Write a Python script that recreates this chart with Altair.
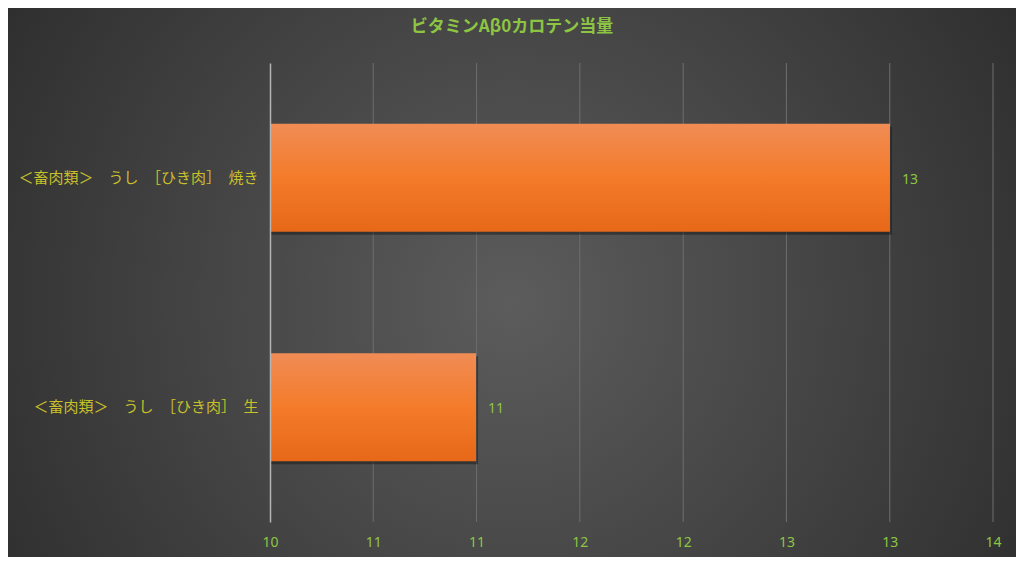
import altair as alt
import pandas as pd

title_text = "ビタミンAβ0カロテン当量"
categories = ["＜畜肉類＞　うし　［ひき肉］　焼き", "＜畜肉類＞　うし　［ひき肉］　生"]
values = [13.43, 11.14]
tick_values = [10, 10.571, 11.143, 11.714, 12.286, 12.857, 13.429, 14]

df = pd.DataFrame({"food": categories, "value": values})
grid_df = pd.DataFrame({"tick": tick_values[1:]})
title_df = pd.DataFrame({"t": [title_text]})

W, H = 723, 459
PL, PT, PR, PB = 262, 55, 23, 35

x_scale = alt.Scale(domain=[10, 14], nice=False)
y_scale = alt.Scale(paddingInner=0.53, paddingOuter=0.265)

background = alt.Chart(pd.DataFrame({"k": [0]})).mark_rect(
    clip=False,
    color=alt.RadialGradient(
        gradient="radial",
        x1=0.5, y1=0.52, r1=0.0,
        x2=0.5, y2=0.52, r2=0.75,
        stops=[
            alt.GradientStop(offset=0, color="#5c5c5c"),
            alt.GradientStop(offset=1, color="#222222"),
        ],
    ),
).encode(
    x=alt.value(-PL), x2=alt.value(W + PR),
    y=alt.value(-PT), y2=alt.value(H + PB),
)

grid = alt.Chart(grid_df).mark_rule(color="#6e6e6e", strokeWidth=1).encode(
    x=alt.X("tick:Q", scale=x_scale, title=None),
    y=alt.value(0), y2=alt.value(H),
)

shadow = alt.Chart(df).mark_bar(
    color="#141414", opacity=0.45, xOffset=2, yOffset=3, clip=False,
).encode(
    y=alt.Y("food:N", sort=categories, title=None, scale=y_scale),
    x=alt.X("value:Q", scale=x_scale, title=None),
    x2=alt.datum(10),
)

y_enc = alt.Y(
    "food:N", sort=categories, title=None, scale=y_scale,
    axis=alt.Axis(
        labelColor="#c9c12a", labelFont="Noto Sans CJK JP", labelFontSize=15,
        labelPadding=12, labelLimit=0, ticks=False, domainColor="#b5b5b5",
        domainWidth=1.5, grid=False, zindex=1,
    ),
)
x_enc = alt.X(
    "value:Q", title=None, scale=x_scale,
    axis=alt.Axis(
        values=tick_values, format=".0f", labelColor="#8dc543",
        labelFont="Noto Sans", labelFontSize=14, labelPadding=13,
        labelFlush=False, ticks=False, domain=False, grid=False, zindex=1,
    ),
)

bars = alt.Chart(df).mark_bar(
    clip=False,
    color=alt.LinearGradient(
        gradient="linear", x1=0, y1=0, x2=0, y2=1,
        stops=[
            alt.GradientStop(offset=0, color="#f08c55"),
            alt.GradientStop(offset=0.5, color="#f47b2a"),
            alt.GradientStop(offset=1, color="#e66818"),
        ],
    ),
).encode(y=y_enc, x=x_enc, x2=alt.datum(10))

labels = alt.Chart(df).mark_text(
    align="left", baseline="middle", dx=12, dy=2, color="#8dc543",
    font="Noto Sans", fontSize=14,
).encode(
    y=alt.Y("food:N", sort=categories),
    x=alt.X("value:Q", scale=x_scale),
    text=alt.Text("value:Q", format=".0f"),
)

title = alt.Chart(title_df).mark_text(
    align="center", baseline="middle", color="#8dc543",
    font="Noto Sans CJK JP", fontSize=17, fontWeight="bold",
).encode(
    x=alt.value(242), y=alt.value(-36), text="t:N",
)

chart = alt.layer(background, grid, shadow, bars, labels, title).properties(
    width=W, height=H,
    padding={"left": PL, "top": PT, "right": PR, "bottom": PB},
    autosize=alt.AutoSizeParams(type="none"),
).configure_view(stroke=None).configure(background="#2a2a2a")

chart.save("out.html", embed_options={"renderer": "svg", "actions": False})
